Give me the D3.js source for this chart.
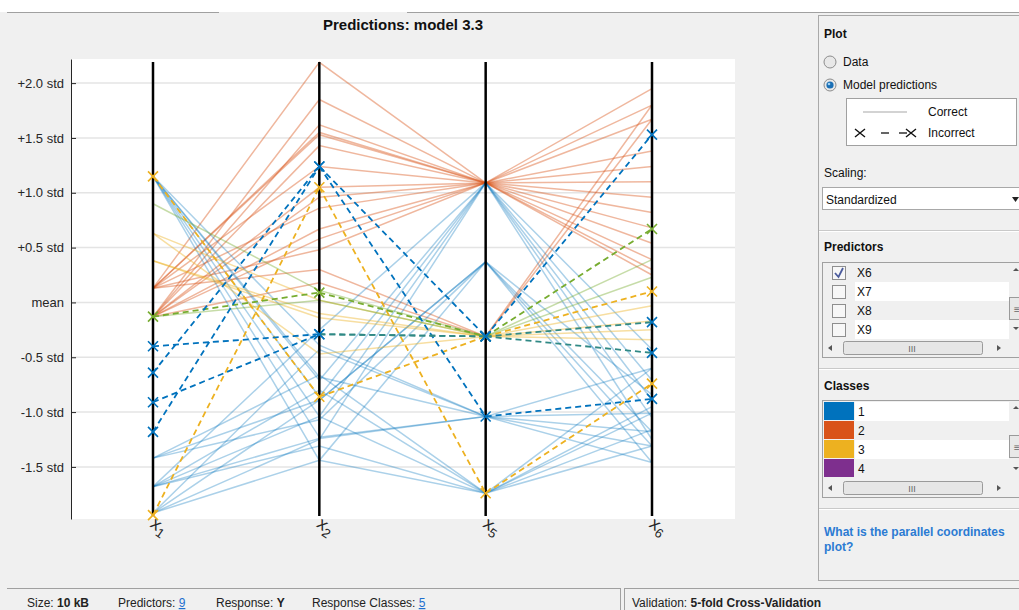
<!DOCTYPE html>
<html>
<head>
<meta charset="utf-8">
<script src="https://cdn.jsdelivr.net/npm/d3@7"></script>
<style>
  body { margin: 0; background: #f0f0f0; }
  svg text { font-family: "Liberation Sans", Arial, sans-serif; }
</style>
</head>
<body>
<script>
const w = 1019;
const h = 610;

// axes of the parallel coordinates plot
const dims = ["x1", "x2", "x5", "x6"];
const dimSubs = ["1", "2", "5", "6"];
const yTicks = [-1.5, -1, -0.5, 0, 0.5, 1, 1.5, 2];
const yTickLabels = ["-1.5 std", "-1.0 std", "-0.5 std", "mean", "+0.5 std", "+1.0 std", "+1.5 std", "+2.0 std"];

const classNames = ["1", "2", "3", "4"];
const classColors = ["#0072BD", "#D95319", "#EDB120", "#7E2F8E", "#77AC30"];

// correctly predicted observations (class, values on x1,x2,x5,x6 in std)
const correctClass = [
  2, 2, 2, 2, 2, 2, 2, 2, 2, 2, 2, 2, 2, 2, 2,
  1, 1, 1, 1, 1, 1, 1, 1, 1, 1, 1, 1, 1, 1, 1, 1, 1, 1, 1,
  3, 3, 3, 3,
  5, 5
];
const correctValues = [
  [0.13, 2.19, 1.09, 1.95],
  [-0.13, 1.62, 1.09, 1.8],
  [-0.13, 1.43, 1.09, 1.38],
  [0.13, 1.24, 1.09, 1.24],
  [-0.13, 1.05, 1.09, 1.1],
  [0.13, 0.86, 1.09, 0.96],
  [-0.13, 0.67, 1.09, 0.82],
  [0.13, 0.48, 1.09, 0.54],
  [-0.13, 1.85, 1.09, 0.25],
  [0.13, 1.53, 1.09, 1.67],
  [-0.13, 0.96, 1.09, 0.68],
  [0.13, 0.3, -0.31, 1.8],
  [-0.13, 0.18, -0.31, 1.67],
  [0.13, 1.55, 1.09, 0.39],
  [-0.13, 0.58, 1.09, 0.3],
  [1.15, -0.68, -1.04, -1.01],
  [1.15, -0.86, 1.09, -1.25],
  [1.15, -1.04, -1.74, -0.6],
  [1.15, -1.23, -1.04, -1.46],
  [1.15, -1.44, 0.37, -1.31],
  [1.15, -0.71, 1.09, -0.89],
  [-1.42, -0.89, 0.37, -1.18],
  [-1.68, -1.04, 1.09, -0.43],
  [-1.68, -1.24, -1.04, -1.18],
  [-1.92, -1.44, -1.74, -1.01],
  [-1.92, -0.89, 0.37, -1.46],
  [-1.42, -0.66, -1.74, -1.31],
  [-1.68, -0.25, 1.09, -0.71],
  [-1.92, -0.43, -1.04, -0.6],
  [-1.42, -1.07, 0.37, -0.84],
  [-1.68, -0.8, -1.74, -1.16],
  [1.15, -0.39, -1.04, -1.31],
  [-1.92, -1.25, 1.09, -1.05],
  [-1.68, -1.31, -1.74, -0.95],
  [0.63, -0.47, -0.31, -0.03],
  [0.38, -0.14, -0.31, -0.25],
  [0.63, 0.02, -0.31, -0.17],
  [0.38, -0.1, -0.31, -0.34],
  [0.9, 0.11, -0.31, 0.39],
  [-0.13, 0.02, -0.31, 0.23]
];

// wrongly predicted observations
const wrongClass = [3, 3, 5, 1, 1, 1, 1];
const wrongValues = [
  [-1.94, 1.05, -1.74, -0.74],
  [1.15, -0.86, -0.31, 0.1],
  [-0.13, 0.09, -0.31, 0.67],
  [-0.64, 1.24, -0.31, 1.53],
  [-1.18, 1.24, -1.04, -0.88],
  [-0.4, -0.29, -0.31, -0.18],
  [-0.91, -0.29, -0.31, -0.46]
];
// segment index from which two wrong lines overlap and read teal
const wrongTealFrom = [null, null, null, null, null, 1, 1];

const predictorNames = ["X6", "X7", "X8", "X9"];
const predictorChecked = [true, false, false, false];

const svg = d3.select("body").append("svg").attr("width", w).attr("height", h);

// window chrome
svg.append("rect").attr("width", w).attr("height", h).attr("fill", "#f0f0f0");
svg.append("rect").attr("width", w).attr("height", 12).attr("fill", "#ffffff");
svg.append("line").attr("x1", 7).attr("x2", 219).attr("y1", 12.5).attr("y2", 12.5).attr("stroke", "#a0a0a0");
svg.append("line").attr("x1", 407).attr("x2", w).attr("y1", 12.5).attr("y2", 12.5).attr("stroke", "#a0a0a0");

// plot
const plotL = 71, plotR = 735, plotT = 59, plotB = 519;
svg.append("rect").attr("x", plotL).attr("y", plotT).attr("width", plotR - plotL).attr("height", plotB - plotT).attr("fill", "#fff");

svg.append("text").attr("x", 403).attr("y", 30).attr("text-anchor", "middle")
  .attr("font-size", 15).attr("font-weight", "bold").attr("fill", "#111").text("Predictions: model 3.3");

const x = d3.scalePoint().domain(dims).range([153, 652]);
const y = d3.scaleLinear().domain([-1.975, 2.22]).range([plotB, plotT]);

svg.append("g").selectAll("line").data(yTicks).enter().append("line")
  .attr("x1", plotL).attr("x2", plotR)
  .attr("y1", (d) => y(d)).attr("y2", (d) => y(d))
  .attr("stroke", "#e4e4e4").attr("stroke-width", 1.5);

const yAxis = d3.axisLeft(y).tickValues(yTicks)
  .tickFormat((d, i) => yTickLabels[i]).tickSizeInner(-5).tickSizeOuter(0).tickPadding(7);
const gy = svg.append("g").attr("transform", "translate(" + plotL + ",0)").call(yAxis);
gy.select(".domain").attr("stroke", "#262626");
gy.selectAll(".tick line").attr("stroke", "#262626");
gy.selectAll(".tick text").attr("font-size", 13).attr("fill", "#262626")
  .attr("font-family", "Liberation Sans, Arial, sans-serif");

const line = d3.line().x((d, i) => x(dims[i])).y((d) => y(d));

// correct: orange below, others over it
const order = d3.range(correctValues.length).sort((a, b) => (correctClass[a] === 2 ? 0 : 1) - (correctClass[b] === 2 ? 0 : 1));
svg.append("g").selectAll("path").data(order).enter().append("path")
  .attr("d", (i) => line(correctValues[i]))
  .attr("fill", "none")
  .attr("stroke", (i) => classColors[correctClass[i] - 1])
  .attr("stroke-opacity", (i) => (correctClass[i] === 1 ? 0.33 : 0.42))
  .attr("stroke-width", 1.5);

// vertical axes
svg.append("g").selectAll("line").data(dims).enter().append("line")
  .attr("x1", (d) => x(d)).attr("x2", (d) => x(d))
  .attr("y1", 62).attr("y2", 516)
  .attr("stroke", "#000").attr("stroke-width", 2.5);

// incorrect, dashed with crosses
const teal = d3.interpolateRgb(classColors[0], classColors[4])(0.4);
const wrongG = svg.append("g");
wrongValues.forEach((vals, k) => {
  const col = classColors[wrongClass[k] - 1];
  for (let s = 0; s < vals.length - 1; s++) {
    const c = wrongTealFrom[k] !== null && s >= wrongTealFrom[k] ? teal : col;
    wrongG.append("line")
      .attr("x1", x(dims[s])).attr("y1", y(vals[s]))
      .attr("x2", x(dims[s + 1])).attr("y2", y(vals[s + 1]))
      .attr("stroke", c).attr("stroke-width", 1.8).attr("stroke-dasharray", "6,4");
  }
  vals.forEach((v, i) => {
    wrongG.append("path")
      .attr("transform", "translate(" + x(dims[i]) + "," + y(v) + ")")
      .attr("d", "M-5,-5L5,5M-5,5L5,-5")
      .attr("stroke", col).attr("stroke-width", 1.6).attr("fill", "none");
  });
});

// axis names
const xl = svg.append("g").selectAll("text").data(dims).enter().append("text")
  .attr("transform", (d) => "translate(" + (x(d) + 3) + ",531) rotate(35)")
  .attr("text-anchor", "middle").attr("font-size", 18).attr("fill", "#262626");
xl.append("tspan").text("x");
xl.append("tspan").attr("font-size", 13).attr("dy", 4).text((d, i) => dimSubs[i]);

// right panel
const p = svg.append("g");
p.append("rect").attr("x", 818.5).attr("y", 15.5).attr("width", 210).attr("height", 565).attr("fill", "none").attr("stroke", "#a9a9a9");
const label = (tx, ty, t, bold) => p.append("text").attr("x", tx).attr("y", ty)
  .attr("font-size", 12).attr("fill", "#111").attr("font-weight", bold ? "bold" : "normal").text(t);

label(824, 38, "Plot", true);
const radio = (cy, on, t) => {
  p.append("circle").attr("cx", 830).attr("cy", cy).attr("r", 6).attr("fill", "#e8e8e8").attr("stroke", "#8c8c8c");
  if (on) {
    p.append("circle").attr("cx", 830).attr("cy", cy).attr("r", 3.6).attr("fill", "#1a6fb5");
    p.append("circle").attr("cx", 829).attr("cy", cy - 1).attr("r", 1.3).attr("fill", "#9fd0f2");
  }
  label(843, cy + 4, t, false);
};
radio(62, false, "Data");
radio(85, true, "Model predictions");

p.append("rect").attr("x", 846.5).attr("y", 98.5).attr("width", 170).attr("height", 47).attr("fill", "#fff").attr("stroke", "#a0a0a0");
p.append("line").attr("x1", 863).attr("x2", 907).attr("y1", 112).attr("y2", 112).attr("stroke", "#c4c4c4").attr("stroke-width", 1.5);
label(928, 116, "Correct", false);
[860, 911].forEach((cx) => p.append("path").attr("transform", "translate(" + cx + ",133)")
  .attr("d", "M-5,-4L5,4M-5,4L5,-4").attr("stroke", "#111").attr("stroke-width", 1.4));
p.append("line").attr("x1", 881).attr("x2", 889).attr("y1", 133).attr("y2", 133).attr("stroke", "#111").attr("stroke-width", 1.3);
p.append("line").attr("x1", 899).attr("x2", 907).attr("y1", 133).attr("y2", 133).attr("stroke", "#111").attr("stroke-width", 1.3);
label(928, 137, "Incorrect", false);

label(824, 177, "Scaling:", false);
p.append("rect").attr("x", 822.5).attr("y", 187.5).attr("width", 200).attr("height", 22).attr("fill", "#fff").attr("stroke", "#a8a8a8");
label(826, 204, "Standardized", false);
p.append("path").attr("d", "M1012,197L1019,197L1015.5,202Z").attr("fill", "#222");

const sep = (sy) => {
  p.append("line").attr("x1", 819).attr("x2", w).attr("y1", sy + 0.5).attr("y2", sy + 0.5).attr("stroke", "#c9c9c9");
  p.append("line").attr("x1", 819).attr("x2", w).attr("y1", sy + 1.5).attr("y2", sy + 1.5).attr("stroke", "#fff");
};
sep(230);
sep(368);
sep(508);

const hScroll = (sy) => {
  p.append("rect").attr("x", 823).attr("y", sy).attr("width", 186).attr("height", 16).attr("fill", "#f0f0f0");
  p.append("path").attr("d", `M828,${sy + 8}L832,${sy + 5}L832,${sy + 11}Z`).attr("fill", "#555");
  p.append("path").attr("d", `M1001,${sy + 8}L997,${sy + 5}L997,${sy + 11}Z`).attr("fill", "#555");
  p.append("rect").attr("x", 843.5).attr("y", sy + 1.5).attr("width", 139).attr("height", 13).attr("rx", 2)
    .attr("fill", "#e6e6e6").attr("stroke", "#9a9a9a");
  p.append("text").attr("x", 912).attr("y", sy + 12).attr("text-anchor", "middle").attr("font-size", 9).attr("fill", "#666").text("III");
};
const vScroll = (y0, y1) => {
  p.append("path").attr("d", `M1013,${y0 + 8}L1016,${y0 + 5}L1019,${y0 + 8}Z`).attr("fill", "#555");
  p.append("rect").attr("x", 1009.5).attr("y", y0 + 34.5).attr("width", 12).attr("height", 22).attr("fill", "#e8e8e8").attr("stroke", "#9a9a9a");
  p.append("text").attr("x", 1014).attr("y", y0 + 50).attr("font-size", 10).attr("fill", "#666").text("≡");
  p.append("path").attr("d", `M1013,${y1 - 12}L1016,${y1 - 9}L1019,${y1 - 12}Z`).attr("fill", "#555");
};

label(824, 251, "Predictors", true);
p.append("rect").attr("x", 822.5).attr("y", 262.5).attr("width", 200).attr("height", 95).attr("fill", "#f0f0f0").attr("stroke", "#a0a0a0");
predictorNames.forEach((n, i) => {
  const ry = 263 + i * 19;
  p.append("rect").attr("x", 855).attr("y", ry).attr("width", 154).attr("height", 19).attr("fill", i % 2 ? "#fff" : "#f0f0f0");
  p.append("rect").attr("x", 832.5).attr("y", ry + 3.5).attr("width", 13).attr("height", 13).attr("fill", "#f7f7f7").attr("stroke", "#8e8e8e");
  if (predictorChecked[i]) {
    p.append("path").attr("d", `M835,${ry + 10}L838.5,${ry + 14}L843,${ry + 5}`).attr("fill", "none").attr("stroke", "#4b5b9c").attr("stroke-width", 1.8);
  }
  label(857, ry + 14, n, false);
});
vScroll(263, 339);
hScroll(340);

label(824, 390, "Classes", true);
p.append("rect").attr("x", 822.5).attr("y", 400.5).attr("width", 200).attr("height", 97).attr("fill", "#f0f0f0").attr("stroke", "#a0a0a0");
classNames.forEach((n, i) => {
  const ry = 402 + i * 19;
  p.append("rect").attr("x", 855).attr("y", ry).attr("width", 154).attr("height", 19).attr("fill", i % 2 ? "#f0f0f0" : "#fff");
  p.append("rect").attr("x", 824).attr("y", ry).attr("width", 30).attr("height", 18).attr("fill", classColors[i]);
  label(858, ry + 14, n, false);
});
vScroll(401, 479);
hScroll(480);

p.append("text").attr("x", 824).attr("y", 536).attr("font-size", 12).attr("font-weight", "bold").attr("fill", "#2b7bd3").text("What is the parallel coordinates");
p.append("text").attr("x", 824).attr("y", 551).attr("font-size", 12).attr("font-weight", "bold").attr("fill", "#2b7bd3").text("plot?");

// status bar
svg.append("line").attr("x1", 7).attr("x2", 620).attr("y1", 588.5).attr("y2", 588.5).attr("stroke", "#a0a0a0");
svg.append("line").attr("x1", 624).attr("x2", w).attr("y1", 588.5).attr("y2", 588.5).attr("stroke", "#a0a0a0");
svg.append("line").attr("x1", 620.5).attr("x2", 620.5).attr("y1", 588).attr("y2", h).attr("stroke", "#a0a0a0");
svg.append("line").attr("x1", 624.5).attr("x2", 624.5).attr("y1", 588).attr("y2", h).attr("stroke", "#a0a0a0");
const status = (sx, a, b, kind) => {
  const t = svg.append("text").attr("x", sx).attr("y", 607).attr("font-size", 12).attr("fill", "#222");
  t.append("tspan").text(a + " ");
  const s = t.append("tspan").text(b);
  if (kind === "bold") s.attr("font-weight", "bold");
  if (kind === "link") s.attr("fill", "#1f6fcf").attr("text-decoration", "underline");
};
status(27, "Size:", "10 kB", "bold");
status(118, "Predictors:", "9", "link");
status(216, "Response:", "Y", "bold");
status(312, "Response Classes:", "5", "link");
status(632, "Validation:", "5-fold Cross-Validation", "bold");
</script>
</body>
</html>
